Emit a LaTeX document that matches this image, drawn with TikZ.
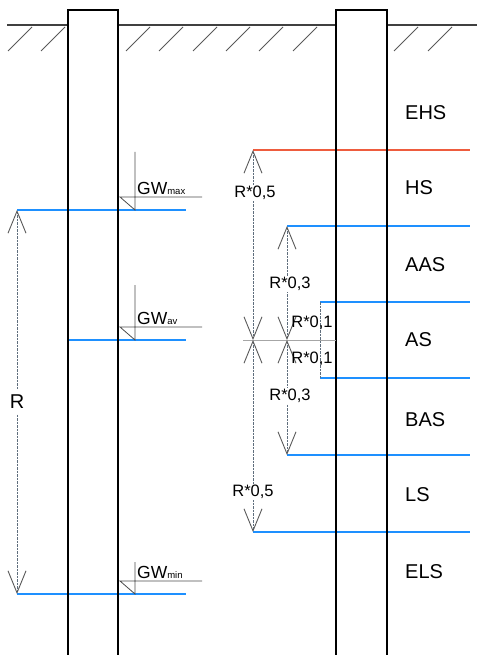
\documentclass[tikz,border=0pt]{standalone}
\usepackage{fontspec}
\setmainfont{Liberation Sans}
\usetikzlibrary{arrows.meta,positioning}

\definecolor{wblue}{RGB}{30,144,255}
\definecolor{wred}{RGB}{238,92,62}
\definecolor{dimc}{RGB}{95,110,125}

\tikzset{
  ground/.style={line width=2.2pt, black!75},
  hatch/.style={line width=0.8pt, black!65},
  pipe/.style={line width=1.4pt, black},
  water/.style={line width=2.2pt, wblue},
  barb/.tip={Straight Barb[length=22pt,width=18pt,line width=0.9pt,color=black!65]},
  dim/.style={dimc, line width=0.7pt, dash pattern=on 2.5pt off 1pt, barb-barb},
  dimlbl/.style={fill=white, inner sep=1.5pt, font=\fontsize{16.5}{17}\selectfont},
  zone/.style={anchor=west, inner sep=0pt, font=\fontsize{20}{22}\selectfont},
  gwsym/.style={line width=0.8pt, black!70}
}

\begin{document}
\begin{tikzpicture}[x=1pt,y=-1pt]
  \useasboundingbox (0,0) rectangle (477,655);

  % ground surface
  \draw[ground] (7,25) -- (68,25) (118,25) -- (336,25) (387,25) -- (477,25);
  \foreach \x in {32,65,150,183,217,250,283,317,418,452}
    \draw[hatch] (\x,27) -- ++(-24,24);

  % levels
  \coordinate (gmax) at (17,210);
  \coordinate (gav) at (68,340);
  \coordinate (gmin) at (17,594);
  \coordinate (top5) at (253,150);
  \coordinate (mid5) at (253,340);
  \coordinate (bot5) at (253,532);
  \coordinate (top3) at (287,226);
  \coordinate (mid3) at (287,340);
  \coordinate (bot3) at (287,455);
  \coordinate (top1) at (320,302);
  \coordinate (bot1) at (320,378);
  \coordinate (midl) at (243,340);
  \coordinate (midr) at (336,340);

  % water tables
  \draw[water] (gmax) -- (186,210);
  \draw[water] (gav) -- (186,340);
  \draw[water] (gmin) -- (186,594);
  \draw[line width=2.2pt, wred] (top5) -- (470,150);
  \draw[water] (top3) -- (470,226);
  \draw[water] (top1) -- (470,302);
  \draw[water] (bot1) -- (470,378);
  \draw[water] (bot3) -- (470,455);
  \draw[water] (bot5) -- (470,532);

  % wells
  \draw[pipe] (68,655) -- (68,10) -- (118,10) -- (118,655);
  \draw[pipe] (336,655) -- (336,10) -- (387,10) -- (387,655);

  % groundwater marks
  \foreach \lev/\up/\sub in {210/152/max, 340/285/av, 594/562/min}{
    \draw[gwsym] (135,\up) -- (135,\lev) -- (120,\lev-13) -- (202,\lev-13);
    \node[anchor=south west, inner sep=0pt] (gw\sub) at (137,\lev-15)
      {\fontsize{17.5}{17}\selectfont GW\fontsize{9.5}{9}\selectfont\sub};
  }

  % range
  \draw[dim] (gmax) -- (gmin);
  \node[fill=white, inner sep=5pt, font=\fontsize{20}{22}\selectfont] (rr) at (17,402) {R};

  % zones
  \draw[line width=1pt, black!35] (midl) -- (midr);
  \draw[dim] (top5) -- (mid5);
  \draw[dim] (mid5) -- (bot5);
  \draw[dim] (top3) -- (mid3);
  \draw[dim] (mid3) -- (bot3);
  \draw[dimc, line width=0.7pt, dash pattern=on 2.5pt off 1pt] (top1) -- (bot1);
  \node[dimlbl] (r5a) at (255,193) {R*0,5};
  \node[dimlbl] (r5b) at (253,492) {R*0,5};
  \node[dimlbl] (r3a) at (290,284) {R*0,3};
  \node[dimlbl] (r3b) at (290,396) {R*0,3};
  \node[dimlbl, fill=none] (r1a) at (312,323) {R*0,1};
  \node[dimlbl, fill=none] (r1b) at (312,359) {R*0,1};

  \node[zone] (ehs) at (405,113) {EHS};
  \node[zone] (hs) at (405,188) {HS};
  \node[zone] (aas) at (405,265) {AAS};
  \node[zone] (as) at (405,340) {AS};
  \node[zone] (bas) at (405,420) {BAS};
  \node[zone] (ls) at (405,495) {LS};
  \node[zone] (els) at (405,572) {ELS};
\end{tikzpicture}
\end{document}
